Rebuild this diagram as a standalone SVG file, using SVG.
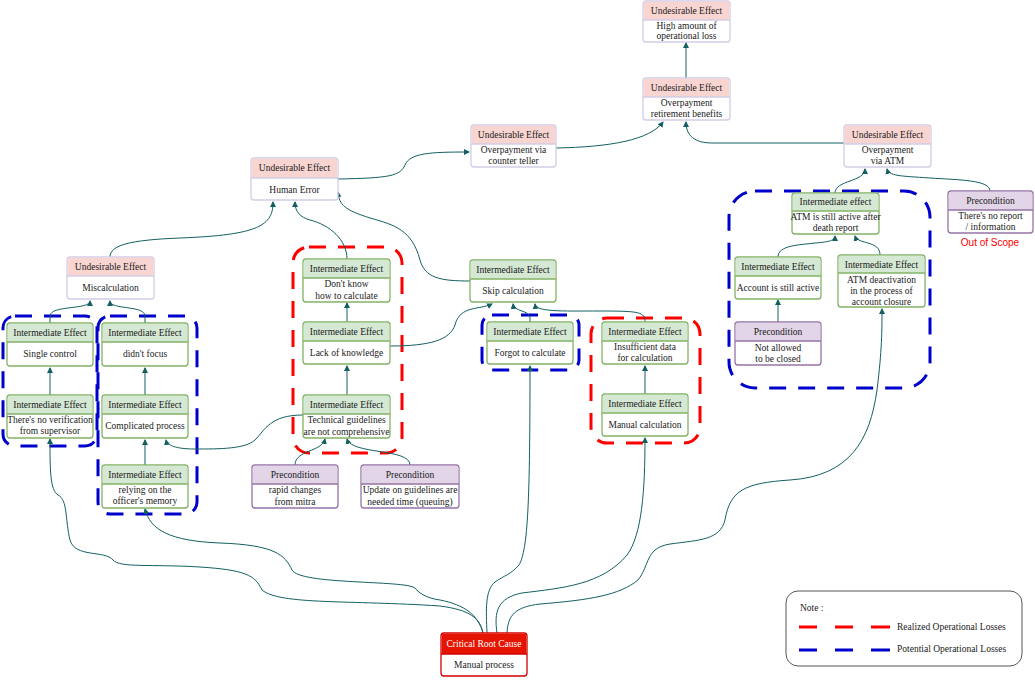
<svg xmlns="http://www.w3.org/2000/svg" width="1035" height="683" viewBox="0 0 1035 683">
<defs>
<marker id="ah" markerWidth="6" markerHeight="6" refX="5" refY="3" orient="auto" markerUnits="userSpaceOnUse">
<path d="M0,0 L6,3 L0,6 Z" fill="#145f61"/>
</marker>
<style>
text{font-family:"Liberation Serif","Times New Roman",serif;font-size:9.5px;fill:#1a1a1a;text-anchor:middle}
.box{fill:#fff;stroke-width:1.3}
.ue .box{stroke:#d3cde6}.ue .hd{fill:#f8d5d1}.ue .sep{stroke:#d3cde6}
.ie .box{stroke:#82b366}.ie .hd{fill:#d5e8d4}.ie .sep{stroke:#82b366}
.pc .box{stroke:#9673a6}.pc .hd{fill:#e1d5e7}.pc .sep{stroke:#9673a6}
.cr .box{stroke:#d40000}.cr .hd{fill:#e51400}.cr .sep{stroke:#d40000}
.cr .ht{fill:#fff}
.sep{stroke-width:1.3}
.edges path{fill:none;stroke:#145f61;stroke-width:1}
.arr{marker-end:url(#ah)}
.blue{fill:none;stroke:#0000cc;stroke-width:3;stroke-dasharray:17 12}
.red{fill:none;stroke:#ff0000;stroke-width:3;stroke-dasharray:17 12}
.oos{font-family:"Liberation Sans",Arial,sans-serif;font-size:10px;fill:#ff0000}
</style>
</defs>
<rect width="1035" height="683" fill="#fff"/>

<g id="regions">
<rect class="blue" x="3" y="316" width="94" height="130" rx="12"/>
<rect class="blue" x="98" y="316" width="99" height="198" rx="12"/>
<rect class="red" x="293" y="247" width="109" height="206" rx="16"/>
<rect class="blue" x="482" y="315" width="97" height="55" rx="10"/>
<rect class="red" x="591" y="318" width="109" height="125" rx="16"/>
<rect class="blue" x="729" y="191" width="201" height="197" rx="26"/>
</g>

<g class="edges" id="connectors">
<path class="arr" d="M686,78 V43"/>
<path class="arr" d="M556,148 C610,147 650,140 663,122"/>
<path class="arr" d="M844,143 H712 C695,143 686,136 686,122"/>
<path class="arr" d="M338,179 C390,178 400,176 405,165 C410,153 430,152 469,152"/>
<path class="arr" d="M110,257 C110,245 130,240 180,238 C260,235 273,225 273,202"/>
<path class="arr" d="M347,259 C347,240 330,225 310,220 C300,217 295,212 295,202"/>
<path class="arr" d="M470,281 C440,281 425,278 420,260 C412,230 395,225 370,218 C345,210 339,205 338,192"/>
<path class="arr" d="M50,323 V316 C50,305 90,310 90,301"/>
<path class="arr" d="M145,323 V316 C145,305 110,310 110,301"/>
<path class="arr" d="M50,395 V368"/>
<path class="arr" d="M145,395 V368"/>
<path class="arr" d="M145,465 V440"/>
<path class="arr" d="M303,415 C270,415 265,430 255,440 C245,449 220,449 195,449 C175,449 167,445 166,440"/>
<path class="arr" d="M390,346 C430,346 450,340 455,325 C460,305 480,310 492,304"/>
<path class="arr" d="M530,322 V318 C530,310 514,312 513,304"/>
<path class="arr" d="M645,322 C645,312 640,311 600,311 C560,311 536,312 535,304"/>
<path class="arr" d="M347,322 V303"/>
<path class="arr" d="M347,395 V366"/>
<path class="arr" d="M295,465 C295,450 322,452 325,439"/>
<path class="arr" d="M410,465 C410,448 352,455 347,439"/>
<path class="arr" d="M645,394 V366"/>
<path class="arr" d="M835,193 C835,180 865,182 865,169"/>
<path class="arr" d="M990,191 C990,180 960,180 930,178 C900,176 889,176 887,169"/>
<path class="arr" d="M778,257 C778,245 800,245 815,243 C830,242 835,240 835,236"/>
<path class="arr" d="M880,255 C880,240 858,245 855,236"/>
<path class="arr" d="M778,322 V300"/>
<path class="arr" d="M483,633 C480,618 470,610 440,606 C350,600 280,605 262,590 C255,575 245,570 200,567 C150,564 120,568 113,560 C105,550 75,558 70,540 C65,520 68,500 58,495 C50,490 50,470 50,439"/>
<path class="arr" d="M483,633 C478,615 465,605 440,600 C425,598 418,592 415,588 C405,580 300,585 292,570 C285,555 275,545 220,543 C170,541 150,530 145,509"/>
<path class="arr" d="M487,633 C486,610 485,590 495,582 C505,575 510,575 519,565 C528,550 530,500 530,366"/>
<path class="arr" d="M497,633 C494,612 497,598 522,593 C562,588 602,585 627,555 C642,535 645,490 645,438"/>
<path class="arr" d="M507,633 C508,615 515,607 540,604 C590,600 620,595 638,580 C650,565 645,548 670,544 C700,540 720,540 725,520 C730,490 745,483 790,480 C850,476 870,440 877,390 C882,350 882,330 882,309"/>
</g>

<g id="n-high" class="ue">
<rect class="box" x="643" y="1" width="87" height="41" rx="3"/>
<path class="hd" d="M643.7,20 V4 Q643.7,1.7 646,1.7 H727 Q729.3,1.7 729.3,4 V20 Z"/>
<line class="sep" x1="643" y1="20" x2="730" y2="20"/>
<text x="686.5" y="14">Undesirable Effect</text>
<text x="686.5" y="29">High amount of</text>
<text x="686.5" y="39">operational loss</text>
</g>

<g id="n-retire" class="ue">
<rect class="box" x="643" y="78" width="87" height="42" rx="3"/>
<path class="hd" d="M643.7,97 V81 Q643.7,78.7 646,78.7 H727 Q729.3,78.7 729.3,81 V97 Z"/>
<line class="sep" x1="643" y1="97" x2="730" y2="97"/>
<text x="686.5" y="91">Undesirable Effect</text>
<text x="686.5" y="106">Overpayment</text>
<text x="686.5" y="117">retirement benefits</text>
</g>

<g id="n-teller" class="ue">
<rect class="box" x="471" y="125" width="85" height="42" rx="3"/>
<path class="hd" d="M471.7,144 V128 Q471.7,125.7 474,125.7 H553 Q555.3,125.7 555.3,128 V144 Z"/>
<line class="sep" x1="471" y1="144" x2="556" y2="144"/>
<text x="513.5" y="138">Undesirable Effect</text>
<text x="513.5" y="153">Overpayment via</text>
<text x="513.5" y="164">counter teller</text>
</g>

<g id="n-human" class="ue">
<rect class="box" x="251" y="158" width="87" height="42" rx="3"/>
<path class="hd" d="M251.7,178 V161 Q251.7,158.7 254,158.7 H335 Q337.3,158.7 337.3,161 V178 Z"/>
<line class="sep" x1="251" y1="178" x2="338" y2="178"/>
<text x="294.5" y="171">Undesirable Effect</text>
<text x="294.5" y="193">Human Error</text>
</g>

<g id="n-atm" class="ue">
<rect class="box" x="844" y="125" width="87" height="42" rx="3"/>
<path class="hd" d="M844.7,144 V128 Q844.7,125.7 847,125.7 H928 Q930.3,125.7 930.3,128 V144 Z"/>
<line class="sep" x1="844" y1="144" x2="931" y2="144"/>
<text x="887.5" y="138">Undesirable Effect</text>
<text x="887.5" y="153">Overpayment</text>
<text x="887.5" y="164">via ATM</text>
</g>

<g id="n-miscalc" class="ue">
<rect class="box" x="67" y="257" width="87" height="42" rx="3"/>
<path class="hd" d="M67.7,276 V260 Q67.7,257.7 70,257.7 H151 Q153.3,257.7 153.3,260 V276 Z"/>
<line class="sep" x1="67" y1="276" x2="154" y2="276"/>
<text x="110.5" y="270">Undesirable Effect</text>
<text x="110.5" y="291">Miscalculation</text>
</g>

<g id="n-noreport" class="pc">
<rect class="box" x="948" y="191" width="85" height="42" rx="3"/>
<path class="hd" d="M948.7,210 V194 Q948.7,191.7 951,191.7 H1030 Q1032.3,191.7 1032.3,194 V210 Z"/>
<line class="sep" x1="948" y1="210" x2="1033" y2="210"/>
<text x="990.5" y="204">Precondition</text>
<text x="990.5" y="219">There's no report</text>
<text x="990.5" y="230">/ information</text>
</g>
<text class="oos" x="990" y="246">Out of Scope</text>

<g id="n-atmactive" class="ie">
<rect class="box" x="792" y="193" width="87" height="41" rx="3"/>
<path class="hd" d="M792.7,211 V196 Q792.7,193.7 795,193.7 H876 Q878.3,193.7 878.3,196 V211 Z"/>
<line class="sep" x1="792" y1="211" x2="879" y2="211"/>
<text x="835.5" y="205">Intermediate effect</text>
<text x="835.5" y="220">ATM is still active after</text>
<text x="835.5" y="231">death report</text>
</g>

<g id="n-account" class="ie">
<rect class="box" x="735" y="257" width="86" height="42" rx="3"/>
<path class="hd" d="M735.7,276 V260 Q735.7,257.7 738,257.7 H818 Q820.3,257.7 820.3,260 V276 Z"/>
<line class="sep" x1="735" y1="276" x2="821" y2="276"/>
<text x="778" y="270">Intermediate Effect</text>
<text x="778" y="291">Account is still active</text>
</g>

<g id="n-deact" class="ie">
<rect class="box" x="838" y="255" width="87" height="52" rx="3"/>
<path class="hd" d="M838.7,273 V258 Q838.7,255.7 841,255.7 H922 Q924.3,255.7 924.3,258 V273 Z"/>
<line class="sep" x1="838" y1="273" x2="925" y2="273"/>
<text x="881.5" y="268">Intermediate Effect</text>
<text x="881.5" y="283">ATM deactivation</text>
<text x="881.5" y="294">in the process of</text>
<text x="881.5" y="305">account closure</text>
</g>

<g id="n-notallowed" class="pc">
<rect class="box" x="735" y="322" width="86" height="43" rx="3"/>
<path class="hd" d="M735.7,341 V325 Q735.7,322.7 738,322.7 H818 Q820.3,322.7 820.3,325 V341 Z"/>
<line class="sep" x1="735" y1="341" x2="821" y2="341"/>
<text x="778" y="335">Precondition</text>
<text x="778" y="351">Not allowed</text>
<text x="778" y="362">to be closed</text>
</g>

<g id="n-single" class="ie">
<rect class="box" x="7" y="323" width="86" height="43" rx="3"/>
<path class="hd" d="M7.7,342 V326 Q7.7,323.7 10,323.7 H90 Q92.3,323.7 92.3,326 V342 Z"/>
<line class="sep" x1="7" y1="342" x2="93" y2="342"/>
<text x="50" y="336">Intermediate Effect</text>
<text x="50" y="357">Single control</text>
</g>

<g id="n-focus" class="ie">
<rect class="box" x="102" y="323" width="86" height="43" rx="3"/>
<path class="hd" d="M102.7,342 V326 Q102.7,323.7 105,323.7 H185 Q187.3,323.7 187.3,326 V342 Z"/>
<line class="sep" x1="102" y1="342" x2="188" y2="342"/>
<text x="145" y="336">Intermediate Effect</text>
<text x="145" y="357">didn't focus</text>
</g>

<g id="n-verif" class="ie">
<rect class="box" x="7" y="395" width="86" height="43" rx="3"/>
<path class="hd" d="M7.7,414 V398 Q7.7,395.7 10,395.7 H90 Q92.3,395.7 92.3,398 V414 Z"/>
<line class="sep" x1="7" y1="414" x2="93" y2="414"/>
<text x="50" y="408">Intermediate Effect</text>
<text x="50" y="423">There's no verification</text>
<text x="50" y="434">from supervisor</text>
</g>

<g id="n-complic" class="ie">
<rect class="box" x="102" y="395" width="86" height="43" rx="3"/>
<path class="hd" d="M102.7,414 V398 Q102.7,395.7 105,395.7 H185 Q187.3,395.7 187.3,398 V414 Z"/>
<line class="sep" x1="102" y1="414" x2="188" y2="414"/>
<text x="145" y="408">Intermediate Effect</text>
<text x="145" y="429">Complicated process</text>
</g>

<g id="n-relying" class="ie">
<rect class="box" x="102" y="465" width="86" height="43" rx="3"/>
<path class="hd" d="M102.7,484 V468 Q102.7,465.7 105,465.7 H185 Q187.3,465.7 187.3,468 V484 Z"/>
<line class="sep" x1="102" y1="484" x2="188" y2="484"/>
<text x="145" y="478">Intermediate Effect</text>
<text x="145" y="493">relying on the</text>
<text x="145" y="504">officer's memory</text>
</g>

<g id="n-dontknow" class="ie">
<rect class="box" x="303" y="259" width="87" height="43" rx="3"/>
<path class="hd" d="M303.7,278 V262 Q303.7,259.7 306,259.7 H387 Q389.3,259.7 389.3,262 V278 Z"/>
<line class="sep" x1="303" y1="278" x2="390" y2="278"/>
<text x="346.5" y="272">Intermediate Effect</text>
<text x="346.5" y="287">Don't know</text>
<text x="346.5" y="299">how to calculate</text>
</g>

<g id="n-lack" class="ie">
<rect class="box" x="303" y="322" width="87" height="42" rx="3"/>
<path class="hd" d="M303.7,341 V325 Q303.7,322.7 306,322.7 H387 Q389.3,322.7 389.3,325 V341 Z"/>
<line class="sep" x1="303" y1="341" x2="390" y2="341"/>
<text x="346.5" y="335">Intermediate Effect</text>
<text x="346.5" y="356">Lack of knowledge</text>
</g>

<g id="n-tech" class="ie">
<rect class="box" x="303" y="395" width="87" height="43" rx="3"/>
<path class="hd" d="M303.7,414 V398 Q303.7,395.7 306,395.7 H387 Q389.3,395.7 389.3,398 V414 Z"/>
<line class="sep" x1="303" y1="414" x2="390" y2="414"/>
<text x="346.5" y="408">Intermediate Effect</text>
<text x="346.5" y="423">Technical guidelines</text>
<text x="346.5" y="435">are not comprehensive</text>
</g>

<g id="n-rapid" class="pc">
<rect class="box" x="252" y="465" width="86" height="43" rx="3"/>
<path class="hd" d="M252.7,484 V468 Q252.7,465.7 255,465.7 H335 Q337.3,465.7 337.3,468 V484 Z"/>
<line class="sep" x1="252" y1="484" x2="338" y2="484"/>
<text x="295" y="478">Precondition</text>
<text x="295" y="493">rapid changes</text>
<text x="295" y="505">from mitra</text>
</g>

<g id="n-update" class="pc">
<rect class="box" x="361" y="465" width="98" height="43" rx="3"/>
<path class="hd" d="M361.7,484 V468 Q361.7,465.7 364,465.7 H456 Q458.3,465.7 458.3,468 V484 Z"/>
<line class="sep" x1="361" y1="484" x2="459" y2="484"/>
<text x="410" y="478">Precondition</text>
<text x="410" y="493">Update on guidelines are</text>
<text x="410" y="505">needed time (queuing)</text>
</g>

<g id="n-skip" class="ie">
<rect class="box" x="470" y="260" width="86" height="42" rx="3"/>
<path class="hd" d="M470.7,279 V263 Q470.7,260.7 473,260.7 H553 Q555.3,260.7 555.3,263 V279 Z"/>
<line class="sep" x1="470" y1="279" x2="556" y2="279"/>
<text x="513" y="273">Intermediate Effect</text>
<text x="513" y="294">Skip calculation</text>
</g>

<g id="n-forgot" class="ie">
<rect class="box" x="487" y="322" width="86" height="42" rx="3"/>
<path class="hd" d="M487.7,341 V325 Q487.7,322.7 490,322.7 H570 Q572.3,322.7 572.3,325 V341 Z"/>
<line class="sep" x1="487" y1="341" x2="573" y2="341"/>
<text x="530" y="335">Intermediate Effect</text>
<text x="530" y="356">Forgot to calculate</text>
</g>

<g id="n-insuff" class="ie">
<rect class="box" x="602" y="322" width="86" height="42" rx="3"/>
<path class="hd" d="M602.7,341 V325 Q602.7,322.7 605,322.7 H685 Q687.3,322.7 687.3,325 V341 Z"/>
<line class="sep" x1="602" y1="341" x2="688" y2="341"/>
<text x="645" y="335">Intermediate Effect</text>
<text x="645" y="350">Insufficient data</text>
<text x="645" y="361">for calculation</text>
</g>

<g id="n-manualcalc" class="ie">
<rect class="box" x="602" y="394" width="86" height="42" rx="3"/>
<path class="hd" d="M602.7,413 V397 Q602.7,394.7 605,394.7 H685 Q687.3,394.7 687.3,397 V413 Z"/>
<line class="sep" x1="602" y1="413" x2="688" y2="413"/>
<text x="645" y="407">Intermediate Effect</text>
<text x="645" y="428">Manual calculation</text>
</g>

<g id="n-root" class="cr">
<rect class="box" x="441" y="633" width="86" height="43" rx="3"/>
<path class="hd" d="M441.7,654 V636 Q441.7,633.7 444,633.7 H524 Q526.3,633.7 526.3,636 V654 Z"/>
<line class="sep" x1="441" y1="654" x2="527" y2="654"/>
<text class="ht" x="484" y="647">Critical Root Cause</text>
<text x="484" y="668">Manual process</text>
</g>

<g id="legend">
<rect x="786" y="591" width="236" height="75" rx="12" fill="#fff" stroke="#555" stroke-width="1"/>
<text x="800" y="611" style="text-anchor:start">Note :</text>
<path d="M799,627 H817 M835,627 H853 M871,627 H890" stroke="#ff0000" stroke-width="3" fill="none"/>
<text x="897" y="630" style="text-anchor:start">Realized Operational Losses</text>
<path d="M799,650 H817 M835,650 H853 M871,650 H890" stroke="#0000cc" stroke-width="3" fill="none"/>
<text x="897" y="652" style="text-anchor:start">Potential Operational Losses</text>
</g>
</svg>
